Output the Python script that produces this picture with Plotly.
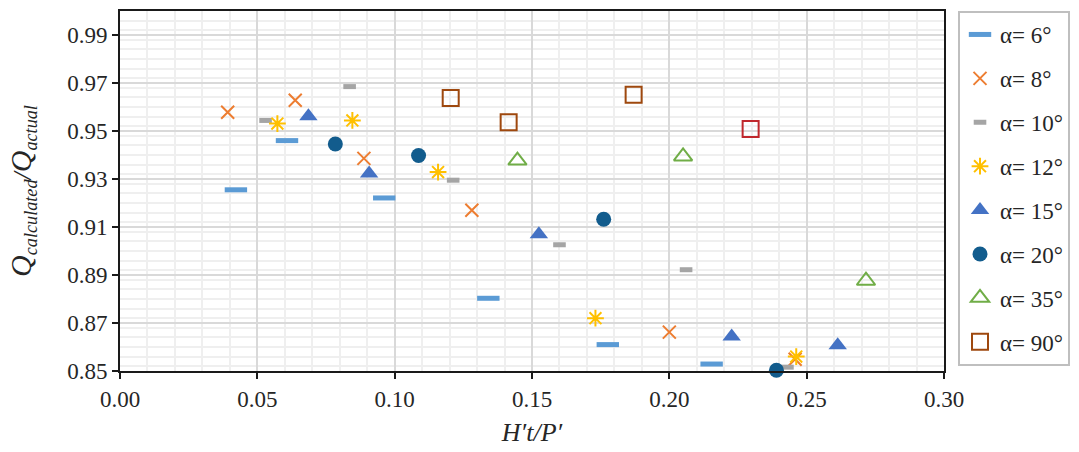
import plotly.graph_objects as go

labels = ["α= 6°", "α= 8°", "α= 10°", "α= 12°", "α= 15°", "α= 20°", "α= 35°", "α= 90°"]

x6 = [0.0422, 0.0608, 0.0962, 0.1341, 0.1776, 0.2154]
y6 = [0.9255, 0.9460, 0.9221, 0.8803, 0.8610, 0.8529]
x8 = [0.0392, 0.0638, 0.0888, 0.1281, 0.2000, 0.2458]
y8 = [0.9578, 0.9628, 0.9386, 0.9170, 0.8662, 0.8549]
x10 = [0.0530, 0.0836, 0.1213, 0.1600, 0.2061, 0.2430]
y10 = [0.9544, 0.9685, 0.9295, 0.9026, 0.8922, 0.8516]
x12 = [0.0573, 0.0846, 0.1158, 0.1731, 0.2462]
y12 = [0.9531, 0.9544, 0.9329, 0.8720, 0.8560]
x15 = [0.0686, 0.0907, 0.1525, 0.2227, 0.2613]
y15 = [0.9561, 0.9323, 0.9070, 0.8644, 0.8607]
x20 = [0.0784, 0.1087, 0.1761, 0.2390]
y20 = [0.9446, 0.9398, 0.9132, 0.8503]
x35 = [0.1447, 0.2050, 0.2716]
y35 = [0.9377, 0.9394, 0.8876]
x90 = [0.1204, 0.1415, 0.1870, 0.2296]
y90 = [0.9637, 0.9536, 0.9651, 0.9508]

FONT = "Liberation Serif"
fig = go.Figure()

def add(x, y, name, i, marker):
    fig.add_trace(go.Scatter(x=x, y=y, mode="markers", name=name, legendgroup=f"g{i}",
                             marker=marker, cliponaxis=False))

add(x6, y6, labels[0], 0, dict(symbol="line-ew", size=16, color="#5B9BD5",
                               line=dict(color="#5B9BD5", width=5)))
add(x8, y8, labels[1], 1, dict(symbol="x-thin", size=13, color="#ED7D31",
                               line=dict(color="#ED7D31", width=2)))
add(x10, y10, labels[2], 2, dict(symbol="line-ew", size=9, color="#A5A5A5",
                                 line=dict(color="#A5A5A5", width=5)))
add(x12, y12, labels[3], 3, dict(symbol="asterisk", size=14, color="#FFC000",
                                 line=dict(color="#FFC000", width=2)))
add(x15, y15, labels[4], 4, dict(symbol="triangle-up", size=16, color="#4472C4",
                                 line=dict(width=0)))
add(x20, y20, labels[5], 5, dict(symbol="circle", size=15, color="#125C8D",
                                 line=dict(width=0)))
add(x35, y35, labels[6], 6, dict(symbol="triangle-up-open", size=16, color="#70AD47",
                                 line=dict(color="#70AD47", width=2)))
add(x90, y90, labels[7], 7, dict(symbol="square-open", size=16,
                                 color=["#9E480E", "#9E480E", "#9E480E", "#C0282D"],
                                 line=dict(width=2)))

fig.update_layout(
    width=1079, height=452,
    margin=dict(l=120, r=134, t=9, b=81),
    paper_bgcolor="white", plot_bgcolor="white",
    font=dict(family=FONT, size=23, color="#262626"),
    showlegend=True,
    legend=dict(x=1.017, xanchor="left", y=1.0, yanchor="top",
                bordercolor="#BFBFBF", borderwidth=2, bgcolor="white",
                font=dict(family=FONT, size=23, color="#262626"),
                traceorder="grouped", tracegroupgap=11,
                itemwidth=30),
)

fig.update_xaxes(
    range=[0, 0.30], dtick=0.05, tick0=0, tickformat=".2f",
    showline=True, linecolor="#1a1a1a", linewidth=2, mirror=True,
    ticks="outside", ticklen=6, tickwidth=2, tickcolor="#1a1a1a",
    showgrid=True, gridcolor="#D9D9D9", gridwidth=1.5,
    minor=dict(dtick=0.01, showgrid=True, gridcolor="#EFEFEF", gridwidth=1.5),
    zeroline=False,
    title=dict(text="<i>H′t/P′</i>", font=dict(family=FONT, size=26), standoff=12),
)
QS = '<span style="font-size:30px">Q</span>'
fig.update_yaxes(
    range=[0.85, 1.0], dtick=0.02, tick0=0.85, tickformat=".2f",
    showline=True, linecolor="#1a1a1a", linewidth=2, mirror=True,
    ticks="outside", ticklen=6, tickwidth=2, tickcolor="#1a1a1a",
    showgrid=True, gridcolor="#D9D9D9", gridwidth=1.5,
    minor=dict(dtick=0.004, showgrid=True, gridcolor="#EFEFEF", gridwidth=1.5),
    zeroline=False,
    title=dict(text=f"<i>{QS}<sub>calculated</sub>/{QS}<sub>actual</sub></i>",
               font=dict(family=FONT, size=26), standoff=28),
)

fig.write_html("out.html", config={"displayModeBar": False},
               post_script="document.body.style.margin='0px';")
